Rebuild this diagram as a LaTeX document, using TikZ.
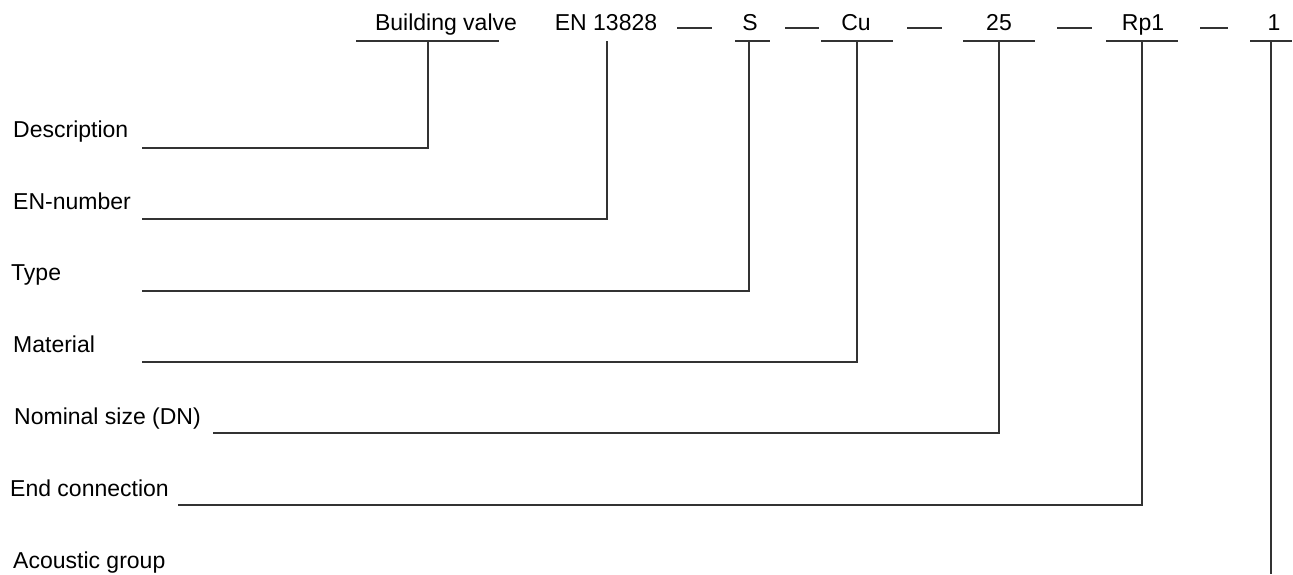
\documentclass[tikz,border=0pt]{standalone}
\usepackage{fontspec}
\setmainfont{Liberation Sans}
\begin{document}
\begin{tikzpicture}[x=1pt,y=-1pt,
  lbl/.style={inner sep=0pt,font=\fontsize{23}{27}\selectfont},
  top/.style={lbl,anchor=base},
  side/.style={lbl,anchor=base west},
  ln/.style={line width=1.4pt,draw=black!80}]
\useasboundingbox[fill=white] (0,0) rectangle (1293,574);
% top code labels
\node[top] (bv) at (446,30) {Building valve};
\node[top] (en) at (606,30) {EN 13828};
\node[top] (s)  at (750,30) {S};
\node[top] (cu) at (856,30) {Cu};
\node[top] (dn) at (999,30) {25};
\node[top] (rp) at (1143,30) {Rp1};
\node[top] (ag) at (1274,30) {1};
% separating dashes
\draw[ln] (677,28) -- (712,28);
\draw[ln] (785,28) -- (819,28);
\draw[ln] (907,28) -- (942,28);
\draw[ln] (1057,28) -- (1092,28);
\draw[ln] (1200,28) -- (1228,28);
% underlines
\draw[ln] (356,41) -- (499,41);
\draw[ln] (735,41) -- (770,41);
\draw[ln] (821,41) -- (893,41);
\draw[ln] (963,41) -- (1035,41);
\draw[ln] (1106,41) -- (1178,41);
\draw[ln] (1250,41) -- (1292,41);
% stem coordinates
\coordinate (bvs) at (428,41);
\coordinate (ens) at (607,41);
\coordinate (ss)  at (749,41);
\coordinate (cus) at (857,41);
\coordinate (dns) at (999,41);
\coordinate (rps) at (1142,41);
\coordinate (ags) at (1271,41);
% side labels
\node[side] (d1) at (13,137) {Description};
\node[side] (d2) at (13,209) {EN-number};
\node[side] (d3) at (11,280) {Type};
\node[side] (d4) at (13,352) {Material};
\node[side] (d5) at (14,424) {Nominal size (DN)};
\node[side] (d6) at (10,496) {End connection};
\node[side] (d7) at (13,568) {Acoustic group};
% line starts
\coordinate (l1) at (142,148);
\coordinate (l2) at (142,219);
\coordinate (l3) at (142,291);
\coordinate (l4) at (142,362);
\coordinate (l5) at (213,433);
\coordinate (l6) at (178,505);
\coordinate (l7) at (1271,574);
% connectors
\draw[ln] (l1) -| (bvs);
\draw[ln] (l2) -| (ens);
\draw[ln] (l3) -| (ss);
\draw[ln] (l4) -| (cus);
\draw[ln] (l5) -| (dns);
\draw[ln] (l6) -| (rps);
\draw[ln] (ags) -- (l7);
\end{tikzpicture}
\end{document}
